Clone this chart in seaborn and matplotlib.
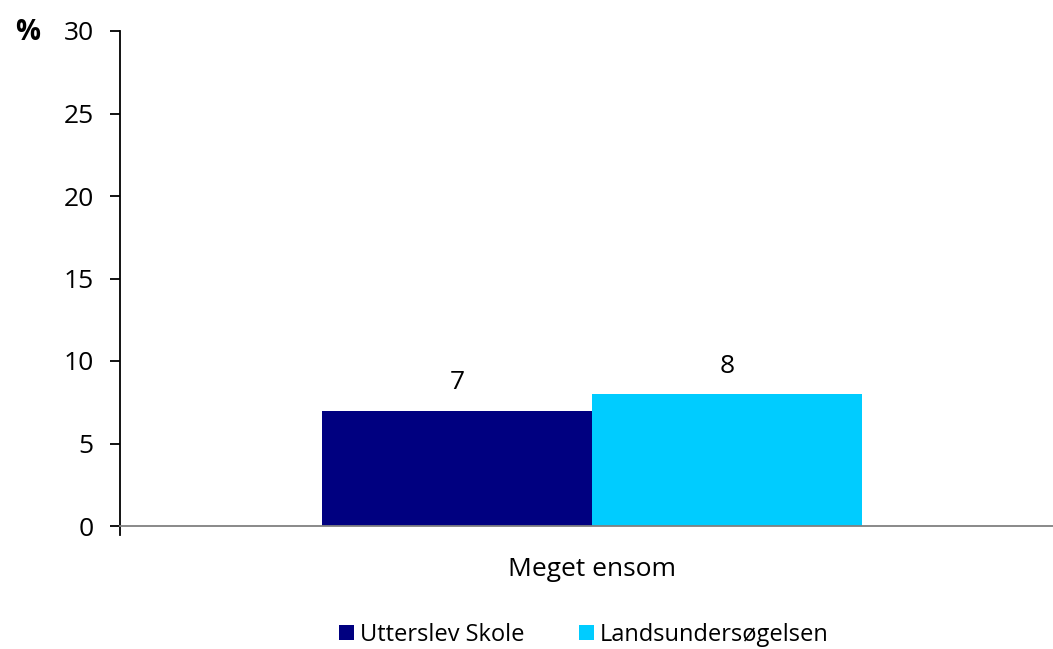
import matplotlib
matplotlib.use("Agg")
import matplotlib.pyplot as plt
import seaborn as sns
import pandas as pd
from matplotlib.patches import Patch

categories = ["Meget ensom"]
groups = ["Utterslev Skole", "Landsundersøgelsen"]
values = [7, 8]
colors = ["#000080", "#00CCFF"]
y_ticks = [0, 5, 10, 15, 20, 25, 30]

df = pd.DataFrame({
    "category": categories * len(groups),
    "group": groups,
    "value": values,
})

sns.set_theme(style="white")
plt.rcParams["font.family"] = ["Open Sans", "DejaVu Sans"]
plt.rcParams["text.color"] = "black"
plt.rcParams["xtick.color"] = "black"
plt.rcParams["ytick.color"] = "black"

FS = 19

fig = plt.figure(figsize=(10.53, 6.49), dpi=100)
ax = fig.add_axes([120 / 1053, 1 - 526 / 649, 933 / 1053, 495 / 649])

sns.barplot(data=df, x="category", y="value", hue="group", palette=colors,
            hue_order=groups, width=0.8, saturation=1, ax=ax, legend=False,
            edgecolor="none", linewidth=0)

for cont in ax.containers:
    for bar in cont:
        h = bar.get_height()
        ax.annotate(f"{h:g}", (bar.get_x() + bar.get_width() / 2, h),
                    xytext=(0, 20), textcoords="offset points",
                    ha="center", va="center", fontsize=FS, color="black")

ax.set_ylim(0, 30)
ax.set_yticks(y_ticks)
ax.set_yticklabels([str(t) for t in y_ticks], fontsize=FS)
ax.set_xlim(-0.699, 0.683)
ax.set_xlabel("")
ax.set_ylabel("")
ax.tick_params(axis="x", length=0, pad=22, labelsize=FS)
ax.tick_params(axis="y", length=7, width=1.3, direction="out", color="black",
               pad=12, left=True)

for side in ["top", "right"]:
    ax.spines[side].set_visible(False)
ax.spines["left"].set_color("black")
ax.spines["left"].set_linewidth(1.3)
ax.spines["left"].set_bounds(-0.55, 30)
ax.spines["bottom"].set_color("#808080")
ax.spines["bottom"].set_linewidth(1.3)

fig.text(28 / 1053, 1 - 32 / 649, "%", fontsize=20, fontweight="bold",
         ha="center", va="center")

handles = [Patch(facecolor=c, edgecolor="none") for c in colors]
fig.legend(handles, groups, loc="center", bbox_to_anchor=(584 / 1053, 1 - 635 / 649),
           ncol=2, frameon=False, fontsize=17, handlelength=0.63, handleheight=0.63,
           handletextpad=0.25, columnspacing=2.3, borderpad=0)

fig.savefig("out.png", dpi=100)
